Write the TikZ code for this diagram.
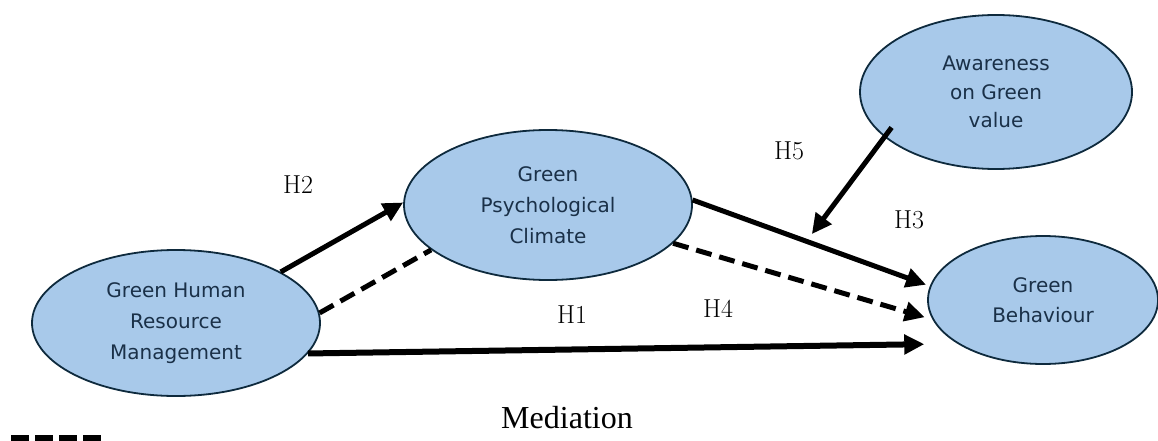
\documentclass[tikz,border=0pt]{standalone}
\usepackage{fontspec}
\usetikzlibrary{shapes.geometric,arrows.meta,calc}
\newfontfamily\ovalfont{DejaVu Sans}
\newfontfamily\notefont{Liberation Serif}
\definecolor{ovalfill}{HTML}{A8C9EA}
\definecolor{ovalline}{HTML}{0E2A3D}
\definecolor{ovaltext}{HTML}{1A3048}
\begin{document}
\begin{tikzpicture}[x=1pt,y=-1pt,
  oval/.style={ellipse, draw=ovalline, line width=1.8pt, fill=ovalfill,
    inner sep=0pt, text=ovaltext, align=center,
    font=\ovalfont\fontsize{20}{31}\selectfont},
  tip/.style={-{Triangle[length=20pt,width=19pt]}},
  link/.style={line width=5pt, tip},
  medlink/.style={line width=5pt, dash pattern=on 16pt off 8pt},
  hyp/.style={anchor=base west, inner sep=0pt, font=\fontsize{26}{26}\selectfont}
]
\useasboundingbox (0,0) rectangle (1158,441);

% constructs
\node[oval, minimum width=288pt, minimum height=146pt] (ghrm) at (176,323)
  {Green Human\\Resource\\Management};
\node[oval, minimum width=288pt, minimum height=150pt] (gpc) at (548,205)
  {Green\\Psychological\\Climate};
\node[oval, minimum width=272pt, minimum height=154pt,
  font=\ovalfont\fontsize{20}{28.5}\selectfont] (agv) at (996,92)
  {Awareness\\on Green\\value};
\node[oval, minimum width=230pt, minimum height=128pt,
  font=\ovalfont\fontsize{20}{30}\selectfont] (gb) at (1043,300)
  {Green\\Behaviour};

% direct paths
\draw[link] (ghrm.26) -- (gpc.179);
\draw[link, shorten >=4pt] (gpc.2) -- (gb.173);
\draw[link, line width=6pt, shorten >=33pt] (ghrm.-13) -- (gb.207);

% moderation onto the H3 path
\coordinate (h5end) at ($(gpc.2)!0.48!(gb.173)$);
\draw[link, shorten <=-12pt, shorten >=9pt] (agv.202.5) -- (h5end);

% mediation paths
\draw[medlink] (ghrm.4) -- (gpc.201);
\draw[medlink, tip, shorten >=8pt] (gpc.-17) -- (gb.190);

% hypothesis labels
\node[hyp] (h2) at (283,193) {H\oldstylenums{2}};
\node[hyp] (h5) at (774,159) {H\oldstylenums{5}};
\node[hyp] (h3) at (894,228) {H\oldstylenums{3}};
\node[hyp] (h1) at (557,323) {H\oldstylenums{1}};
\node[hyp] (h4) at (703,317) {H\oldstylenums{4}};

% legend
\node[anchor=base, inner sep=0pt, font=\notefont\fontsize{32}{32}\selectfont]
  (medlabel) at (567,428) {Mediation};
\coordinate (keyA) at (11,439);
\coordinate (keyB) at (101,439);
\draw[line width=9pt, dash pattern=on 18pt off 6pt] (keyA) -- (keyB);
\end{tikzpicture}
\end{document}
